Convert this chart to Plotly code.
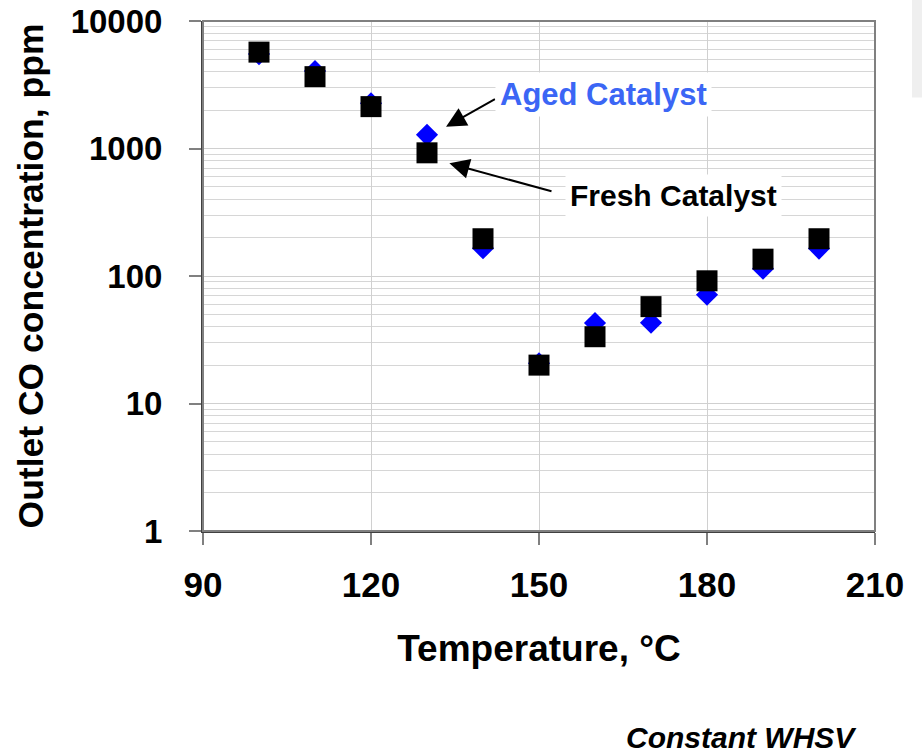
import plotly.graph_objects as go

temperature = [100, 110, 120, 130, 140, 150, 160, 170, 180, 190, 200]
aged_co = [5500, 4050, 2260, 1280, 165, 20.7, 42.8, 43, 71.3, 114, 164]
fresh_co = [5700, 3660, 2130, 925, 196, 20, 33.4, 57.5, 91.7, 135.5, 196]

x_ticks = [90, 120, 150, 180, 210]
y_tickvals = [1, 10, 100, 1000, 10000]
y_ticktext = ["1", "10", "100", "1000", "10000"]

FONT = "Liberation Sans, Arial, sans-serif"

fig = go.Figure()
fig.add_trace(go.Scatter(
    x=temperature, y=aged_co, mode="markers", name="Aged Catalyst",
    marker=dict(symbol="diamond", size=17, color="#0000FF", line=dict(width=0)),
))
fig.add_trace(go.Scatter(
    x=temperature, y=fresh_co, mode="markers", name="Fresh Catalyst",
    marker=dict(symbol="square", size=21, color="#000000", line=dict(width=0)),
))

fig.update_layout(
    width=922, height=753,
    margin=dict(l=203, r=47, t=21, b=222),
    paper_bgcolor="white", plot_bgcolor="white",
    showlegend=False,
    font=dict(family=FONT, color="black"),
)

fig.update_xaxes(
    range=[90, 210], tickvals=x_ticks, automargin=False,
    showgrid=True, gridcolor="#d0d0d0", gridwidth=1,
    ticks="outside", ticklen=12, tickwidth=2, tickcolor="#808080",
    showline=True, linecolor="#404040", linewidth=2,
    tickfont=dict(size=35, weight="bold", family=FONT),
    ticklabelstandoff=10,
    title=dict(text="Temperature, °C", font=dict(size=37, weight="bold", family=FONT), standoff=32),
    zeroline=False,
)
fig.update_yaxes(
    type="log", range=[0, 4], tickvals=y_tickvals, ticktext=y_ticktext, automargin=False,
    showgrid=True, gridcolor="#d0d0d0", gridwidth=1,
    minor=dict(dtick="D1", showgrid=True, gridcolor="#d6d6d6", gridwidth=1, ticks=""),
    ticks="outside", ticklen=12, tickwidth=2, tickcolor="#808080",
    showline=True, linecolor="#404040", linewidth=2,
    tickfont=dict(size=33, weight="bold", family=FONT),
    ticklabelstandoff=20,
    title=dict(text="Outlet CO concentration, ppm", font=dict(size=35.5, weight="bold", family=FONT), standoff=16),
    zeroline=False,
)

# top/right frame
fig.add_shape(type="rect", xref="x domain", yref="y domain", x0=0, x1=1, y0=0, y1=1,
              line=dict(color="#808080", width=2), fillcolor="rgba(0,0,0,0)", layer="above")
# faint grey strip at the right edge
fig.add_shape(type="rect", xref="paper", yref="paper", x0=1.055, x1=1.07, y0=0.85, y1=1.042,
              line=dict(width=0), fillcolor="#efefef", layer="below")

# arrows
fig.add_annotation(x=133.4, y=3.171, ax=142.4, ay=3.394, xref="x", yref="y", axref="x", ayref="y",
                   text="", showarrow=True, arrowhead=2, arrowsize=2, arrowwidth=2, arrowcolor="black")
fig.add_annotation(x=134.0, y=2.884, ax=152.5, ay=2.661, xref="x", yref="y", axref="x", ayref="y",
                   text="", showarrow=True, arrowhead=2, arrowsize=2, arrowwidth=2, arrowcolor="black")

# labels
fig.add_annotation(x=161.6, y=3.42, xref="x", yref="y", text="Aged Catalyst", showarrow=False,
                   font=dict(size=31, weight="bold", color="#3B66F5", family=FONT),
                   bgcolor="white", borderpad=4)
fig.add_annotation(x=174.1, y=2.635, xref="x", yref="y", text="Fresh Catalyst", showarrow=False,
                   font=dict(size=30, weight="bold", color="black", family=FONT),
                   bgcolor="white", borderpad=4)
fig.add_annotation(x=0.802, y=-0.404, xref="paper", yref="paper", text="<i>Constant WHSV</i>",
                   showarrow=False, xanchor="center", yanchor="middle",
                   font=dict(size=30, weight="bold", color="black", family=FONT))

fig.write_html("out.html")
